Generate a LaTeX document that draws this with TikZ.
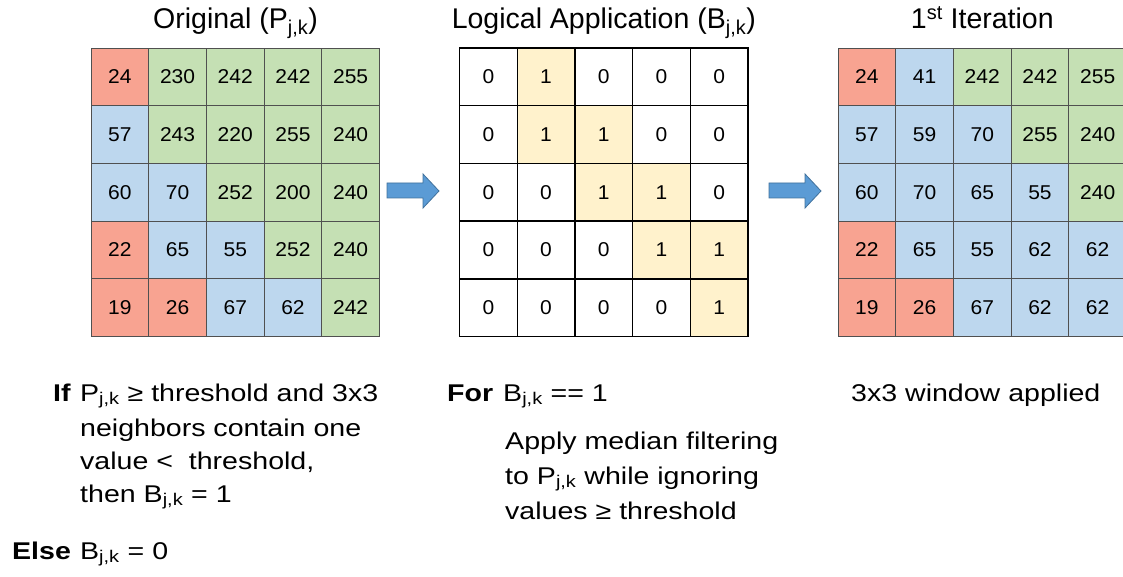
\documentclass[tikz,border=0pt]{standalone}
\usepackage{fontspec}
\setmainfont{Liberation Sans}
\newfontfamily\cellfont[FakeStretch=1.05]{Liberation Sans}
\newfontfamily\notefont[FakeStretch=1.18]{Liberation Sans}

\definecolor{cr}{RGB}{248,163,145}
\definecolor{cg}{RGB}{197,224,180}
\definecolor{cb}{RGB}{189,215,238}
\definecolor{cy}{RGB}{255,242,204}
\definecolor{cw}{RGB}{255,255,255}
\definecolor{gridgray}{RGB}{80,80,80}
\definecolor{arrowblue}{RGB}{91,155,213}
\definecolor{arrowedge}{RGB}{65,113,156}

\tikzset{
  cell/.style={draw=gridgray, line width=0.8pt, minimum size=57.7pt, inner sep=0pt,
    font=\cellfont\fontsize{20}{24}\selectfont},
  bcell/.style={cell, draw=black, line width=1.4pt},
  heading/.style={anchor=base, inner sep=0pt, font=\fontsize{28.5}{34}\selectfont},
  note/.style={anchor=base west, inner sep=0pt, font=\notefont\fontsize{24.2}{29}\selectfont},
  blockarrow/.style={fill=arrowblue, draw=arrowedge, line width=0.8pt}
}

\begin{document}
\begin{tikzpicture}[x=1pt,y=-1pt]
\clip (0,0) rectangle (1123,577);

% titles
\node[heading] (orig) at (235.5,29) {Original (P\textsubscript{j,k})};
\node[heading] (logic) at (603.8,29) {Logical Application (B\textsubscript{j,k})};
\node[heading] (iter) at (982.3,29) {1\textsuperscript{st} Iteration};

% original P
\foreach \rowlist [count=\j] in {{24/r,230/g,242/g,242/g,255/g},{57/b,243/g,220/g,255/g,240/g},
    {60/b,70/b,252/g,200/g,240/g},{22/r,65/b,55/b,252/g,240/g},{19/r,26/r,67/b,62/b,242/g}}
  \foreach \v/\c [count=\k] in \rowlist
    \node[cell, fill=c\c] (p-\j-\k) at ({91+(\k-0.5)*57.7},{48+(\j-0.5)*57.7}) {\v};

% logical B
\foreach \rowlist [count=\j] in {{0/w,1/y,0/w,0/w,0/w},{0/w,1/y,1/y,0/w,0/w},
    {0/w,0/w,1/y,1/y,0/w},{0/w,0/w,0/w,1/y,1/y},{0/w,0/w,0/w,0/w,1/y}}
  \foreach \v/\c [count=\k] in \rowlist
    \node[bcell, fill=c\c] (b-\j-\k) at ({459.5+(\k-0.5)*57.7},{48+(\j-0.5)*57.7}) {\v};

% 1st iteration
\foreach \rowlist [count=\j] in {{24/r,41/b,242/g,242/g,255/g},{57/b,59/b,70/b,255/g,240/g},
    {60/b,70/b,65/b,55/b,240/g},{22/r,65/b,55/b,62/b,62/b},{19/r,26/r,67/b,62/b,62/b}}
  \foreach \v/\c [count=\k] in \rowlist
    \node[cell, fill=c\c] (q-\j-\k) at ({838+(\k-0.5)*57.7},{48+(\j-0.5)*57.7}) {\v};

% block arrows
\foreach \ax in {387,769}
  \draw[blockarrow] (\ax,183) -- ++(36,0) -- ++(0,-9) -- ++(16,17) -- ++(-16,17)
    -- ++(0,-10) -- ++(-36,0) -- cycle;

% rules under the grids
\node[note] (ifkey) at (53,401) {\bfseries If};
\node[note] (if1) at (80,401) {P\textsubscript{j,k} ≥ threshold and 3x3};
\node[note] (if2) at (80,436) {neighbors contain one};
\node[note] (if3) at (80,469) {value <\ \ threshold,};
\node[note] (if4) at (80,502) {then B\textsubscript{j,k} = 1};
\node[note] (elsekey) at (12,559) {\bfseries Else};
\node[note] (else1) at (80,559) {B\textsubscript{j,k} = 0};

\node[note] (forkey) at (447,401) {\bfseries For};
\node[note] (for1) at (503,401) {B\textsubscript{j,k} == 1};
\node[note] (apply1) at (505,449) {Apply median filtering};
\node[note] (apply2) at (505,484) {to P\textsubscript{j,k} while ignoring};
\node[note] (apply3) at (505,519) {values ≥ threshold};

\node[note] (window) at (851,401) {3x3 window applied};
\end{tikzpicture}
\end{document}
